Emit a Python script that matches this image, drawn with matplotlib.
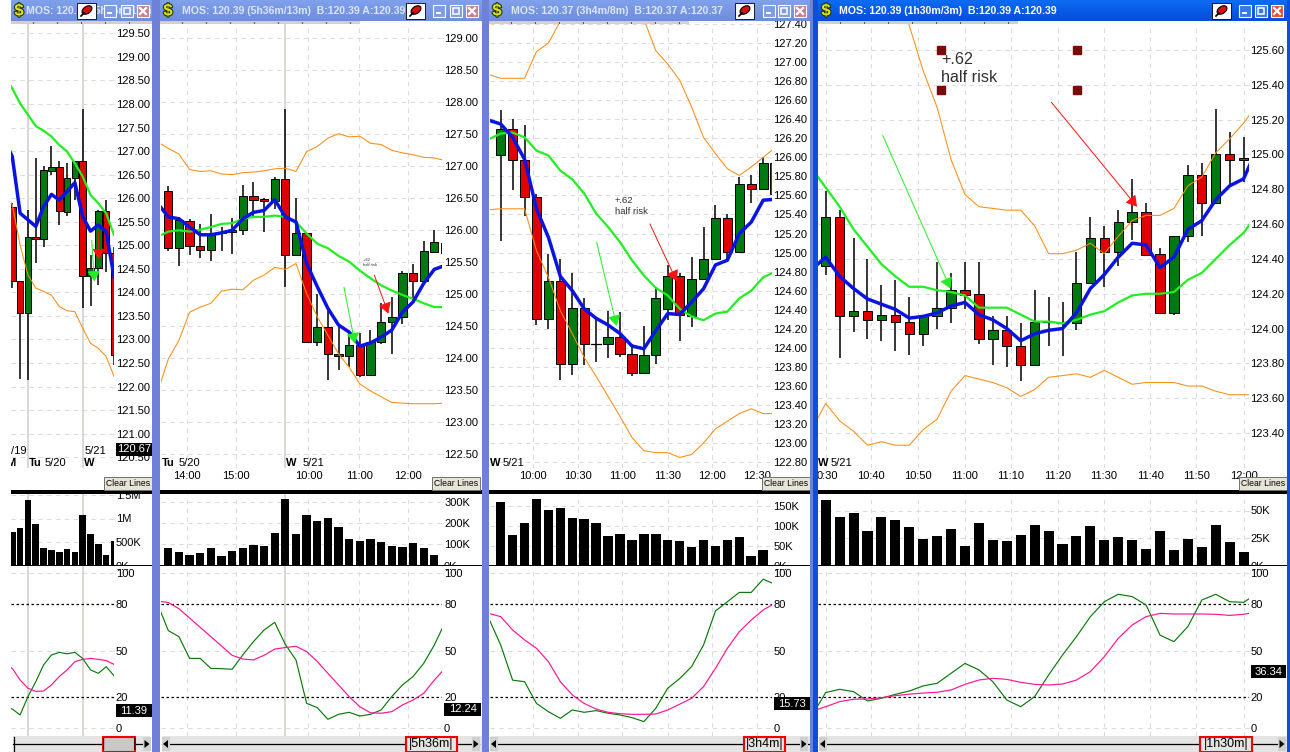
import numpy as np
import matplotlib
matplotlib.use("Agg")
import matplotlib.pyplot as plt
import matplotlib.patheffects as pe
from matplotlib.patches import Rectangle, Ellipse, Polygon
from matplotlib.transforms import blended_transform_factory

plt.rcParams["font.family"] = ["Liberation Sans", "DejaVu Sans"]

W, H = 1290, 752

# ----------------------------
# Panel A data
# ----------------------------
a_open = [125.81,124.24,123.56,125.17,125.13,126.58,126.67,125.71,126.42,126.78,124.34,124.51,125.73,124.83]
a_close = [124.24,123.56,125.17,125.13,126.59,126.67,125.72,126.42,126.79,124.34,124.51,125.73,124.83,122.68]
a_high = [125.9,124.24,125.75,126.85,126.68,127.11,126.79,126.75,126.79,127.9,124.79,125.75,125.97,124.97]
a_low = [124.09,122.16,122.14,124.63,124.97,126.5,125.43,125.62,125.96,123.66,123.7,124.15,124.44,122.46]
a_blue = [127.24,126.88,125.68,125.54,125.4,125.82,126.08,125.96,126.14,126.33,125.61,125.3,125.43,125.29,124.33]
a_green = [128.58,128.33,128.01,127.77,127.53,127.43,127.31,127.13,126.99,126.74,126.46,126.07,125.89,125.68,125.22]
a_lower = [126.1,125.86,125.0,124.37,124.09,124.02,123.94,123.7,123.61,123.59,123.24,122.92,122.81,122.64,122.22]
a_vol = [709,794,1404,879,369,326,284,348,284,1071,667,454,220,518]
a_k = [14,12.4,8.6,20.4,30,40.8,47.2,48.9,48,48.9,45,37.6,35.4,39.7,33.9]
a_d = [41,38.6,31.1,25.8,23.8,24,27.9,33.3,37.6,42.9,44.4,45,44.4,43.6,41.2]

# ----------------------------
# Panel B data
# ----------------------------
b_open = [126.62,125.72,126.15,125.76,125.69,125.96,125.97,126.0,126.54,126.49,126.45,126.8,125.61,125.95,124.25,124.49,124.07,124.04,124.2,123.74,124.25,124.57,124.65,125.34,125.21,125.66,125.8]
b_close = [125.72,126.16,125.76,125.69,125.92,125.98,126.0,126.54,126.47,126.45,126.8,125.62,125.95,124.25,124.49,124.07,124.04,124.2,123.74,124.26,124.57,124.65,125.34,125.21,125.67,125.81,125.65]
b_high = [126.69,126.2,126.18,126.1,126.25,126.05,126.19,126.71,126.75,126.5,126.83,127.89,126.5,125.95,125.0,124.8,124.52,124.39,124.39,124.44,124.87,124.96,125.36,125.48,125.83,126.0,125.85]
b_low = [125.68,125.44,125.61,125.57,125.52,125.67,125.63,125.92,126.21,125.98,126.33,125.11,125.6,124.25,124.19,123.66,123.81,123.86,123.71,123.74,124.23,124.07,124.53,124.9,125.21,125.66,125.6]
b_blue = [126.42,126.21,126.18,126.05,125.93,125.93,125.96,126.0,126.18,126.28,126.31,126.48,126.21,126.13,125.48,125.12,124.78,124.52,124.41,124.19,124.24,124.33,124.44,124.72,124.88,125.17,125.39,125.45]
b_green = [125.9,125.98,126.0,125.98,126.01,126.05,126.1,126.11,126.18,126.21,126.21,126.23,126.21,126.13,125.95,125.79,125.72,125.6,125.51,125.37,125.25,125.14,125.06,124.99,124.93,124.86,124.8,124.8]
b_upper = [127.38,127.28,127.19,126.95,126.92,126.93,126.88,126.87,126.9,126.91,126.93,126.96,126.97,126.92,127.23,127.31,127.44,127.51,127.46,127.47,127.36,127.34,127.25,127.21,127.18,127.14,127.13,127.09]
b_lower = [123.47,123.99,124.28,124.72,124.8,124.86,125.05,125.08,125.07,125.22,125.3,125.42,125.39,125.48,125.01,124.65,124.36,124.07,123.86,123.6,123.49,123.4,123.31,123.3,123.29,123.29,123.29,123.3]
b_vol = [81,63,49,58,81,44,67,81,95,91,152,310,147,236,208,222,180,124,114,124,110,91,86,105,81,49]
b_k = [80,62.9,59,45,45,38.6,38.4,38,47.2,55.8,63.3,68.2,54,44,16.1,13.3,5.8,9,10.3,7.9,9,11.8,20.4,27.9,33.3,41.8,53.6,68]
b_d = [82,81,77,71,65,59,53,47,44.6,44,47,51,52,52.8,49.4,43,35.4,27.9,20.4,13.9,10,9.7,10.7,15,18.2,22.5,31,38.6]

# ----------------------------
# Panel C data
# ----------------------------
c_open = [126.02,126.3,125.97,125.58,124.3,124.7,123.83,124.42,124.04,124.04,124.11,123.94,123.74,123.92,124.41,124.75,124.33,124.72,124.93,125.36,125.01,125.72,125.67,125.94]
c_close = [126.3,125.97,125.58,124.3,124.7,123.83,124.42,124.04,124.04,124.11,123.94,123.74,123.92,124.52,124.75,124.34,124.72,124.93,125.36,125.01,125.72,125.67,125.94,125.61]
c_high = [126.5,126.4,126.34,125.62,124.99,124.93,124.79,124.52,124.32,124.39,124.38,124.04,124.23,124.64,124.87,124.79,124.95,125.27,125.5,125.41,125.79,125.81,126.0,125.96]
c_low = [125.12,125.66,125.38,124.24,124.2,123.66,123.71,123.82,123.85,123.89,123.9,123.7,123.74,123.83,124.29,124.07,124.22,124.72,124.93,124.93,125.01,125.52,125.67,125.6]
c_blue = [126.39,126.35,126.21,125.98,125.46,125.16,124.75,124.6,124.41,124.31,124.24,124.15,124.02,123.99,124.18,124.36,124.35,124.48,124.62,124.87,124.92,125.2,125.32,125.55,125.56]
c_green = [126.19,126.25,126.26,126.21,126.07,126.02,125.86,125.77,125.62,125.41,125.27,125.11,124.92,124.76,124.63,124.55,124.41,124.33,124.29,124.36,124.38,124.52,124.6,124.74,124.8]
c_upper = [126.87,126.83,126.83,126.83,127.11,127.2,127.43,127.7,127.9,128.0,128.0,127.9,127.7,127.45,127.12,126.98,126.81,126.53,126.21,126.04,125.88,125.81,125.9,126.0,126.1]
c_lower = [125.45,125.46,125.46,125.46,125.02,124.74,124.39,124.15,123.9,123.7,123.49,123.28,123.06,122.92,122.9,122.9,122.85,122.88,123.0,123.15,123.23,123.31,123.36,123.31,123.31]
c_vol = [161,77,107,168,140,146,120,118,107,74,80,64,80,80,64,62,47,64,49,64,72,24,39]
c_k = [70.8,53.6,31,30,16,10.7,6.4,11.8,10.3,11.4,9.7,8.6,6.9,4.3,12.9,25.8,32,39.7,53.6,75.5,81.5,87.5,87.5,96,92.7]
c_d = [74,71.9,63.3,56.9,51.5,42.9,30,21.5,16,12.4,10.3,9.4,9,9,9.2,11.8,15.5,19.3,26.8,38.6,51.5,62.2,69.7,76.2,80.5]

# ----------------------------
# Panel D data
# ----------------------------
d_open = [124.36,124.64,124.07,124.1,124.05,124.08,124.04,123.97,124.07,124.12,124.22,124.2,123.94,123.99,123.9,123.79,124.04,124.03,124.03,124.26,124.52,124.44,124.61,124.67,124.43,124.09,124.53,124.88,124.72,125.0,124.97]
d_close = [124.64,124.07,124.1,124.05,124.08,124.04,123.97,124.07,124.12,124.22,124.19,123.94,123.99,123.9,123.79,124.04,124.04,124.03,124.26,124.52,124.44,124.61,124.67,124.42,124.09,124.53,124.88,124.72,125.0,124.97,124.98]
d_high = [124.79,124.68,124.52,124.4,124.25,124.28,124.18,124.07,124.38,124.32,124.38,124.38,124.07,124.07,124.03,124.22,124.18,124.15,124.44,124.64,124.59,124.68,124.86,124.72,124.46,124.53,124.94,124.95,125.26,125.13,125.1]
d_low = [124.31,123.83,123.98,123.94,123.93,123.87,123.85,123.9,124.0,124.03,124.11,123.91,123.79,123.78,123.7,123.79,123.9,123.84,123.99,124.26,124.24,124.36,124.51,124.42,124.09,124.08,124.5,124.53,124.72,124.82,124.84]
d_blue = [124.34,124.41,124.3,124.23,124.17,124.14,124.11,124.06,124.07,124.09,124.13,124.15,124.08,124.05,124.0,123.93,123.97,123.99,124.0,124.09,124.23,124.31,124.41,124.49,124.48,124.35,124.41,124.57,124.62,124.74,124.82,124.86,125.04]
d_green = [124.92,124.81,124.7,124.57,124.47,124.37,124.3,124.24,124.24,124.22,124.21,124.19,124.12,124.12,124.12,124.08,124.04,124.04,124.03,124.05,124.08,124.1,124.15,124.19,124.2,124.2,124.21,124.28,124.32,124.4,124.48,124.55,124.66]
d_upper = [126.6,126.5,126.5,126.4,126.3,126.2,126.0,125.74,125.48,125.27,124.97,124.77,124.7,124.69,124.68,124.68,124.59,124.43,124.43,124.45,124.49,124.43,124.53,124.62,124.65,124.65,124.69,124.82,124.87,125.01,125.09,125.18,125.29]
d_lower = [123.42,123.57,123.47,123.41,123.33,123.35,123.33,123.33,123.42,123.48,123.64,123.73,123.71,123.69,123.66,123.61,123.65,123.72,123.73,123.74,123.72,123.76,123.72,123.68,123.69,123.69,123.69,123.67,123.67,123.64,123.62,123.62,123.62]
d_vol = [60,44,48,31,44,41,35,24,27,33,18,39,23,22,28,37,31,20,27,36,23,26,23,15,31,14,24,17,37,21,12]
d_k = [8,23,25.1,23.6,17.6,19.3,21.9,24,27.3,29,35.4,41.8,37.6,30,18.2,13.9,20.4,34.3,47.2,59,71.9,81.5,86.3,84.8,79.4,60,55.8,65.5,82.6,86.3,81.5,81.1,87]
d_d = [11,13.9,17.2,18.7,18.9,19.7,21,22,22.7,23.2,24.7,28.3,31.1,32.2,31.5,29.6,28.3,27.9,28.5,31.1,36.5,46.1,57.9,66.5,71.9,74,73.6,73.6,73.6,73.4,72.7,73.4,75]

# Arrows and note, same prices in every panel
green_arrow_prices = (125.11, 124.23)
red_arrow_prices = (125.3, 124.7)
note_text = "+.62\nhalf risk"

# Axis labels
a_prices = [120.5 + 0.5 * i for i in range(19)]
b_prices = [122.5 + 0.5 * i for i in range(14)]
c_prices = [122.8 + 0.2 * i for i in range(24)]
d_prices = [123.4 + 0.2 * i for i in range(12)]
stoch_ticks = [0, 20, 50, 80, 100]

colors = dict(red="#e00000", green="#007a10", blue="#0a14e0", ma="#22ee22",
              band="#ff8c14", k="#0a7a0a", d="#ff1493", grid="#dcdcdc", day="#d8d8d0")

panels = [
    dict(o=a_open, c=a_close, h=a_high, l=a_low, blue=a_blue, ma=a_green, bands=[a_lower],
         vol=a_vol, k=a_k, d=a_d, prices=a_prices, vol_w=0.85,
         left=11, right=114, x0=12.3, dx=7.82, body=0.85, p_ref=129.5, y_ref=33.3, px=47.1,
         vol_ticks=[0, 500, 1000, 1500], vol_labels=["0K", "500K", "1M", "1.5M"], vol_px=0.047,
         times=[], time_pos=[], days=[2, 9], last=120.67, stoch_last=11.39, grid=[],
         arrow_x=(10.15, 10.5, 11.0, 11.08), note=None, box_end=152,
         title="MOS: 120.39 (5h36m/13m)", title_x=26, frame=(11, 152), bird=77,
         buttons=(104, 121, 137), scroll="", box=(103, 135), l_arrow=None, r_arrow=143,
         dates=[("/19", 11, 451, False), ("5/21", 85, 451, False), ("M", 6, 463, True),
                ("Tu", 29, 463, True), ("5/20", 45, 463, False), ("W", 84, 463, True)]),
    dict(o=b_open, c=b_close, h=b_high, l=b_low, blue=b_blue, ma=b_green, bands=[b_upper, b_lower],
         vol=b_vol, k=b_k, d=b_d, prices=b_prices, vol_w=0.78,
         left=161, right=442.3, x0=168.3, dx=10.64, body=0.78, p_ref=129.0, y_ref=38.3, px=64.0,
         vol_ticks=[0, 100, 200, 300], vol_labels=["0K", "100K", "200K", "300K"], vol_px=0.213,
         times=["14:00", "15:00", "10:00", "11:00", "12:00"], time_pos=[1.79, 6.39, 13.17, 17.96, 22.57],
         days=[10.97], last=None, stoch_last=12.24, grid=[1.79, 6.39, 13.17, 17.96, 22.57],
         arrow_x=(16.51, 17.54, 19.36, 20.68), note=(18.3, 125.5, 3.0), box_end=481,
         title="MOS: 120.39 (5h36m/13m)  B:120.39 A:120.39", title_x=182, frame=(160, 482), bird=406,
         buttons=(433, 450, 466), scroll="5h36m", box=(406, 457), l_arrow=162, r_arrow=472,
         dates=[("Tu", 162, 463, True), ("5/20", 179, 463, False), ("W", 286, 463, True), ("5/21", 303, 463, False)]),
    dict(o=c_open, c=c_close, h=c_high, l=c_low, blue=c_blue, ma=c_green, bands=[c_upper, c_lower],
         vol=c_vol, k=c_k, d=c_d, prices=c_prices, vol_w=0.8,
         left=489.7, right=771.7, x0=500.7, dx=11.93, body=0.78, p_ref=127.4, y_ref=23.3, px=95.4,
         vol_ticks=[0, 50, 100, 150], vol_labels=["0K", "50K", "100K", "150K"], vol_px=0.394,
         times=["10:00", "10:30", "11:00", "11:30", "12:00", "12:30"], time_pos=[2.74, 6.51, 10.2, 14.0, 17.74, 21.45],
         days=[], last=None, stoch_last=15.73, grid=[2.74, 6.51, 10.2, 14.0, 17.74, 21.45],
         arrow_x=(8.04, 9.72, 12.51, 14.75), note=(9.58, 125.49, 6.8), box_end=810,
         title="MOS: 120.37 (3h4m/8m)  B:120.37 A:120.37", title_x=511, frame=(489, 812), bird=735,
         buttons=(763, 778, 794), scroll="3h4m", box=(744, 785), l_arrow=490, r_arrow=800,
         dates=[("W", 490, 463, True), ("5/21", 503, 463, False)]),
    dict(o=d_open, c=d_close, h=d_high, l=d_low, blue=d_blue, ma=d_green, bands=[d_upper, d_lower],
         vol=d_vol, k=d_k, d=d_d, prices=d_prices, vol_w=0.72,
         left=818, right=1248.7, x0=825.7, dx=13.93, body=0.67, p_ref=125.6, y_ref=50.0, px=174.1,
         vol_ticks=[0, 25, 50], vol_labels=["0K", "25K", "50K"], vol_px=1.1,
         times=["0:30", "10:40", "10:50", "11:00", "11:10", "11:20", "11:30", "11:40", "11:50", "12:00"],
         time_pos=[0.12, 3.28, 6.63, 9.98, 13.3, 16.65, 19.95, 23.3, 26.6, 30.0],
         days=[], last=None, stoch_last=36.34, grid=[0, 3.28, 6.63, 9.98, 13.3, 16.65, 19.95, 23.3, 26.6, 30.0],
         arrow_x=(4.09, 8.95, 16.2, 22.35), note=(8.3, 125.495, 11.6), box_end=1286,
         title="MOS: 120.39 (1h30m/3m)  B:120.39 A:120.39", title_x=839, frame=(818, 1287), bird=1212,
         buttons=(1239, 1255, 1271), scroll="1h30m", box=(1200, 1252), l_arrow=819, r_arrow=1278,
         dates=[("W", 818, 463, True), ("5/21", 831, 463, False)]),
]

fig = plt.figure(figsize=(W / 100, H / 100), dpi=100, facecolor="white")


def px_axes(x0, x1, y0, y1):
    return fig.add_axes([x0 / W, 1 - y1 / H, (x1 - x0) / W, (y1 - y0) / H])


def style_axes(ax, p):
    for s in ax.spines.values():
        s.set_visible(False)
    ax.set_xlim((p["left"] - p["x0"]) / p["dx"], (p["right"] - p["x0"]) / p["dx"])
    ax.yaxis.tick_right()
    ax.tick_params(axis="y", length=1, width=0.8, pad=0.3, labelsize=8, color=colors["grid"])
    ax.set_xticks([])
    ax.set_axisbelow(True)
    for g in p["grid"]:
        ax.axvline(g, color=colors["grid"], lw=0.8, ls=(0, (4, 4)), zorder=0.5)
    for g in p["days"]:
        ax.axvline(g, color=colors["day"], lw=1.4, zorder=0.6)


price_axes = []
for p in panels:
    # ----------------------------
    # Price pane
    # ----------------------------
    ax = px_axes(p["left"], p["right"], 24, 468)
    price_axes.append(ax)
    style_axes(ax, p)
    ax.set_ylim(p["p_ref"] - (468 - p["y_ref"]) / p["px"], p["p_ref"] + (p["y_ref"] - 24) / p["px"])
    ax.set_yticks(p["prices"], [f"{v:.2f}" for v in p["prices"]])
    for v in p["prices"]:
        ax.axhline(v, color=colors["grid"], lw=0.8, ls=(0, (4, 4)), zorder=0.5)

    n = len(p["o"])
    xs = np.arange(n)
    ax.vlines(xs, p["l"], p["h"], color="black", lw=1.1, zorder=2)
    for i in range(n):
        o, c = p["o"][i], p["c"][i]
        if o == c:
            ax.plot([i - 0.4, i + 0.4], [o, o], color="black", lw=0.9, zorder=3)
            continue
        col = colors["red"] if c < o else colors["green"]
        ax.bar(i, abs(c - o), bottom=min(o, c), width=p["body"], color=col,
               edgecolor="black", lw=0.7, zorder=3)

    line_x = np.arange(-1, len(p["blue"]) - 1)
    for band in p["bands"]:
        ax.plot(line_x, band, color=colors["band"], lw=0.75, zorder=4)
    ax.plot(line_x, p["ma"], color=colors["ma"], lw=1.6, zorder=5)
    ax.plot(line_x, p["blue"], color=colors["blue"], lw=2.5, zorder=6, solid_joinstyle="round")

    gx0, gx1, rx0, rx1 = p["arrow_x"]
    ax.annotate("", xy=(gx1, green_arrow_prices[1]), xytext=(gx0, green_arrow_prices[0]), zorder=7,
                arrowprops=dict(arrowstyle="-|>,head_length=0.5,head_width=0.3", color="#22ee22",
                                lw=0.7, mutation_scale=13, shrinkA=0, shrinkB=0))
    ax.annotate("", xy=(rx1, red_arrow_prices[1]), xytext=(rx0, red_arrow_prices[0]), zorder=7,
                arrowprops=dict(arrowstyle="-|>,head_length=0.5,head_width=0.3", color="#ff1010",
                                lw=0.7, mutation_scale=13, shrinkA=0, shrinkB=0))
    if p["note"]:
        nx, ny, fs = p["note"]
        ax.text(nx, ny, note_text, fontsize=fs, color="#303030", va="center", ha="left", zorder=8,
                linespacing=1.25)

    for t, pos in zip(p["times"], p["time_pos"]):
        ax.text(pos, -0.018, t, transform=blended_transform_factory(ax.transData, ax.transAxes),
                fontsize=8, ha="center", va="center")

    # ----------------------------
    # Volume pane
    # ----------------------------
    vax = px_axes(p["left"], p["right"], 494, 565.5)
    style_axes(vax, p)
    vax.set_ylim(0, 71.5 / p["vol_px"])
    vax.set_yticks(p["vol_ticks"], p["vol_labels"])
    for v in p["vol_ticks"][1:]:
        vax.axhline(v, color=colors["grid"], lw=0.8, ls=(0, (4, 4)), zorder=0.5)
    vax.bar(np.arange(len(p["vol"])), p["vol"], width=p["vol_w"], color="black", zorder=3)

    # ----------------------------
    # Stochastic pane
    # ----------------------------
    sax = px_axes(p["left"], p["right"], 566, 736)
    style_axes(sax, p)
    sax.set_ylim((728.3 - 736) / 1.553, (728.3 - 566) / 1.553)
    sax.set_yticks(stoch_ticks, [str(v) for v in stoch_ticks])
    for tick, v in zip(sax.yaxis.get_major_ticks(), stoch_ticks):
        if v in (20, 80):
            tick.tick2line.set_color("black")
    for v in [0, 50, 100]:
        sax.axhline(v, color=colors["grid"], lw=0.8, ls=(0, (4, 4)), zorder=0.5)
    for v in [20, 80]:
        sax.axhline(v, color="black", lw=0.9, ls=(0, (2, 2)), zorder=1)
    k_x = np.arange(-1, len(p["k"]) - 1)
    sax.plot(k_x, p["k"], color=colors["k"], lw=0.85, zorder=3)
    sax.plot(k_x, p["d"], color=colors["d"], lw=0.85, zorder=4)

# Selection handles around the note in the last panel
handle_x = [8.28, 18.03, 8.28, 18.03]
handle_y = [125.6, 125.6, 125.37, 125.37]
price_axes[3].plot(handle_x, handle_y, ls="", marker="s", ms=5.6, color="#7b0a0a", zorder=9)

# ----------------------------
# Window chrome on top
# ----------------------------
ov = fig.add_axes([0, 0, 1, 1], zorder=10)
ov.patch.set_alpha(0)
ov.axis("off")


def rect(x0, y0, x1, y1, **kw):
    kw.setdefault("lw", 0)
    ov.add_patch(Rectangle((x0, y0), x1 - x0, y1 - y0, **kw))


grad = np.linspace(0, 1, 21).reshape(-1, 1)
for i, p in enumerate(panels):
    f0, f1 = p["frame"]
    active = i == 3
    c_top = np.array([0.05, 0.42, 0.95]) if active else np.array([0.50, 0.63, 0.92])
    c_bot = np.array([0.02, 0.30, 0.86]) if active else np.array([0.43, 0.55, 0.87])
    img = c_top[None, None, :] * (1 - grad[:, :, None]) + c_bot[None, None, :] * grad[:, :, None]
    ov.imshow(img, extent=(f0, f1, 21, 0), aspect="auto", zorder=1)

    # toolbar strip and separators
    rect(f0, 21, min(f0 + 200, f1), 24, fc="#d4d0c8", zorder=1)
    for tx in range(f0 + 22, min(f0 + 200, f1) - 5, 24):
        rect(tx, 21.5, tx + 1, 24, fc="#555555", zorder=2)
    rect(f0, 490, f1, 494, fc="black", zorder=1)
    rect(f0, 565, f1, 566, fc="black", zorder=1)
    rect(p["right"] + 1, 566, f1, 569.3, fc="white", zorder=0.9)

    # title
    tcol = "white" if active else "#dbe6fb"
    ov.text(p["title_x"], 11, p["title"], color=tcol, fontsize=7.6, fontweight="bold", va="center",
            ha="left", zorder=3)

    # money icon
    ov.text(f0 + 8, 11, "$", fontsize=12, fontweight="bold", color="#e8e020", ha="center", va="center", zorder=5,
            path_effects=[pe.withStroke(linewidth=1.6, foreground="#1a3a10")])

    # bird icon box
    bx = p["bird"]
    rect(bx, 3, bx + 19, 19, fc="white", ec="black", lw=0.6, zorder=4)
    ov.add_patch(Ellipse((bx + 10, 10), 11, 7, angle=-35, fc="#d81010", ec="black", lw=0.8, zorder=5))
    ov.plot([bx + 4, bx + 7], [16, 13], color="black", lw=1.2, zorder=5)

    # min/max/close buttons
    face = "#3a78ee" if active else "#7f9ce6"
    for j, b in enumerate(p["buttons"]):
        fc = face if j < 2 else ("#e85030" if active else "#c88090")
        rect(b, 5, b + 12, 17, fc=fc, ec="white", lw=0.8, zorder=4)
    b0, b1, b2 = p["buttons"]
    rect(b0 + 3, 12, b0 + 8, 14, fc="white", zorder=5)
    rect(b1 + 3, 8, b1 + 9, 14, fc="none", ec="white", lw=1.1, zorder=5)
    ov.plot([b2 + 3, b2 + 9], [8, 14], color="white", lw=1.6, zorder=5)
    ov.plot([b2 + 3, b2 + 9], [14, 8], color="white", lw=1.6, zorder=5)

    # Clear Lines button
    cx1 = 152 if i == 0 else (f1 if i == 3 else f1 - 2)
    rect(cx1 - 48, 477, cx1, 490, fc="#e8e4d8", ec="#707070", lw=0.7, zorder=4)
    ov.text(cx1 - 24, 483.5, "Clear Lines", fontsize=6.2, ha="center", va="center", zorder=5)

    # date labels
    for txt, tx, ty, bold in p["dates"]:
        t = ov.text(tx, ty, txt, fontsize=8, fontweight="bold" if bold else "normal",
                    ha="left", va="center", zorder=3)
        if txt == "M":
            t.set_clip_on(True)
            t.set_clip_path(Rectangle((f0, 440), 60, 40, transform=ov.transData))

    # last value boxes
    if p["last"]:
        y_last = p["y_ref"] + (p["p_ref"] - p["last"]) * p["px"]
        rect(p["right"] + 2, y_last - 6.5, p["box_end"], y_last + 6.5, fc="black", zorder=3)
        ov.text((p["right"] + 2 + p["box_end"]) / 2, y_last, f"{p['last']:.2f}", color="white", fontsize=8,
                ha="center", va="center", zorder=4)
    y_stoch = 728.3 - p["stoch_last"] * 1.553
    rect(p["right"] + 2, y_stoch - 6.5, p["box_end"], y_stoch + 6.5, fc="black", zorder=3)
    ov.text((p["right"] + 2 + p["box_end"]) / 2, y_stoch, f"{p['stoch_last']:.2f}", color="white", fontsize=8,
            ha="center", va="center", zorder=4)

    # scroll bar
    sb0 = f0 + 2
    sb1 = f1 - (2 if i == 0 else 0)
    rect(sb0, 736, sb1, 752, fc="#e4e4e4", zorder=2)
    ov.plot([sb0, sb1 - 3], [744, 744], color="black", lw=0.9, zorder=3)
    if p["l_arrow"]:
        la = p["l_arrow"]
        rect(la, 737, la + 8, 751, fc="#d0d0d0", zorder=3)
        ov.add_patch(Polygon([[la + 6, 740], [la + 1, 744], [la + 6, 748]], fc="black", zorder=4))
    else:
        ov.plot([sb0 + 1, sb0 + 1], [737, 751], color="black", lw=0.9, zorder=4)
    ra = p["r_arrow"]
    rect(ra, 737, ra + 8, 751, fc="#d0d0d0", zorder=3)
    ov.add_patch(Polygon([[ra + 1.5, 740], [ra + 6.5, 744], [ra + 1.5, 748]], fc="black", zorder=4))
    b0, b1 = p["box"]
    rect(b0, 736.5, b1, 751.5, fc="#c8c8c8" if i == 0 else "#e4e4e4", ec="#f00000", lw=1.5, zorder=5)
    ov.text((b0 + b1) / 2, 744, ("|" + p["scroll"] + "|") if p["scroll"] else "|        |",
            fontsize=9, ha="center", va="center", zorder=6)

# Window borders between panels
rect(0, 0, 11, 24, fc="white", zorder=0.5)
rect(152, 0, 160, H, fc="#6e80d8", zorder=6)
rect(482, 0, 489, H, fc="#6e80d8", zorder=6)
rect(810, 0, 813, H, fc="#6e80d8", zorder=6)
rect(813, 0, 818, H, fc="#0c50d8", zorder=6)
rect(1287, 0, 1290, H, fc="#0c50d8", zorder=6)
ov.set_xlim(0, W)
ov.set_ylim(H, 0)

fig.savefig("out.png", dpi=100, facecolor="white")
